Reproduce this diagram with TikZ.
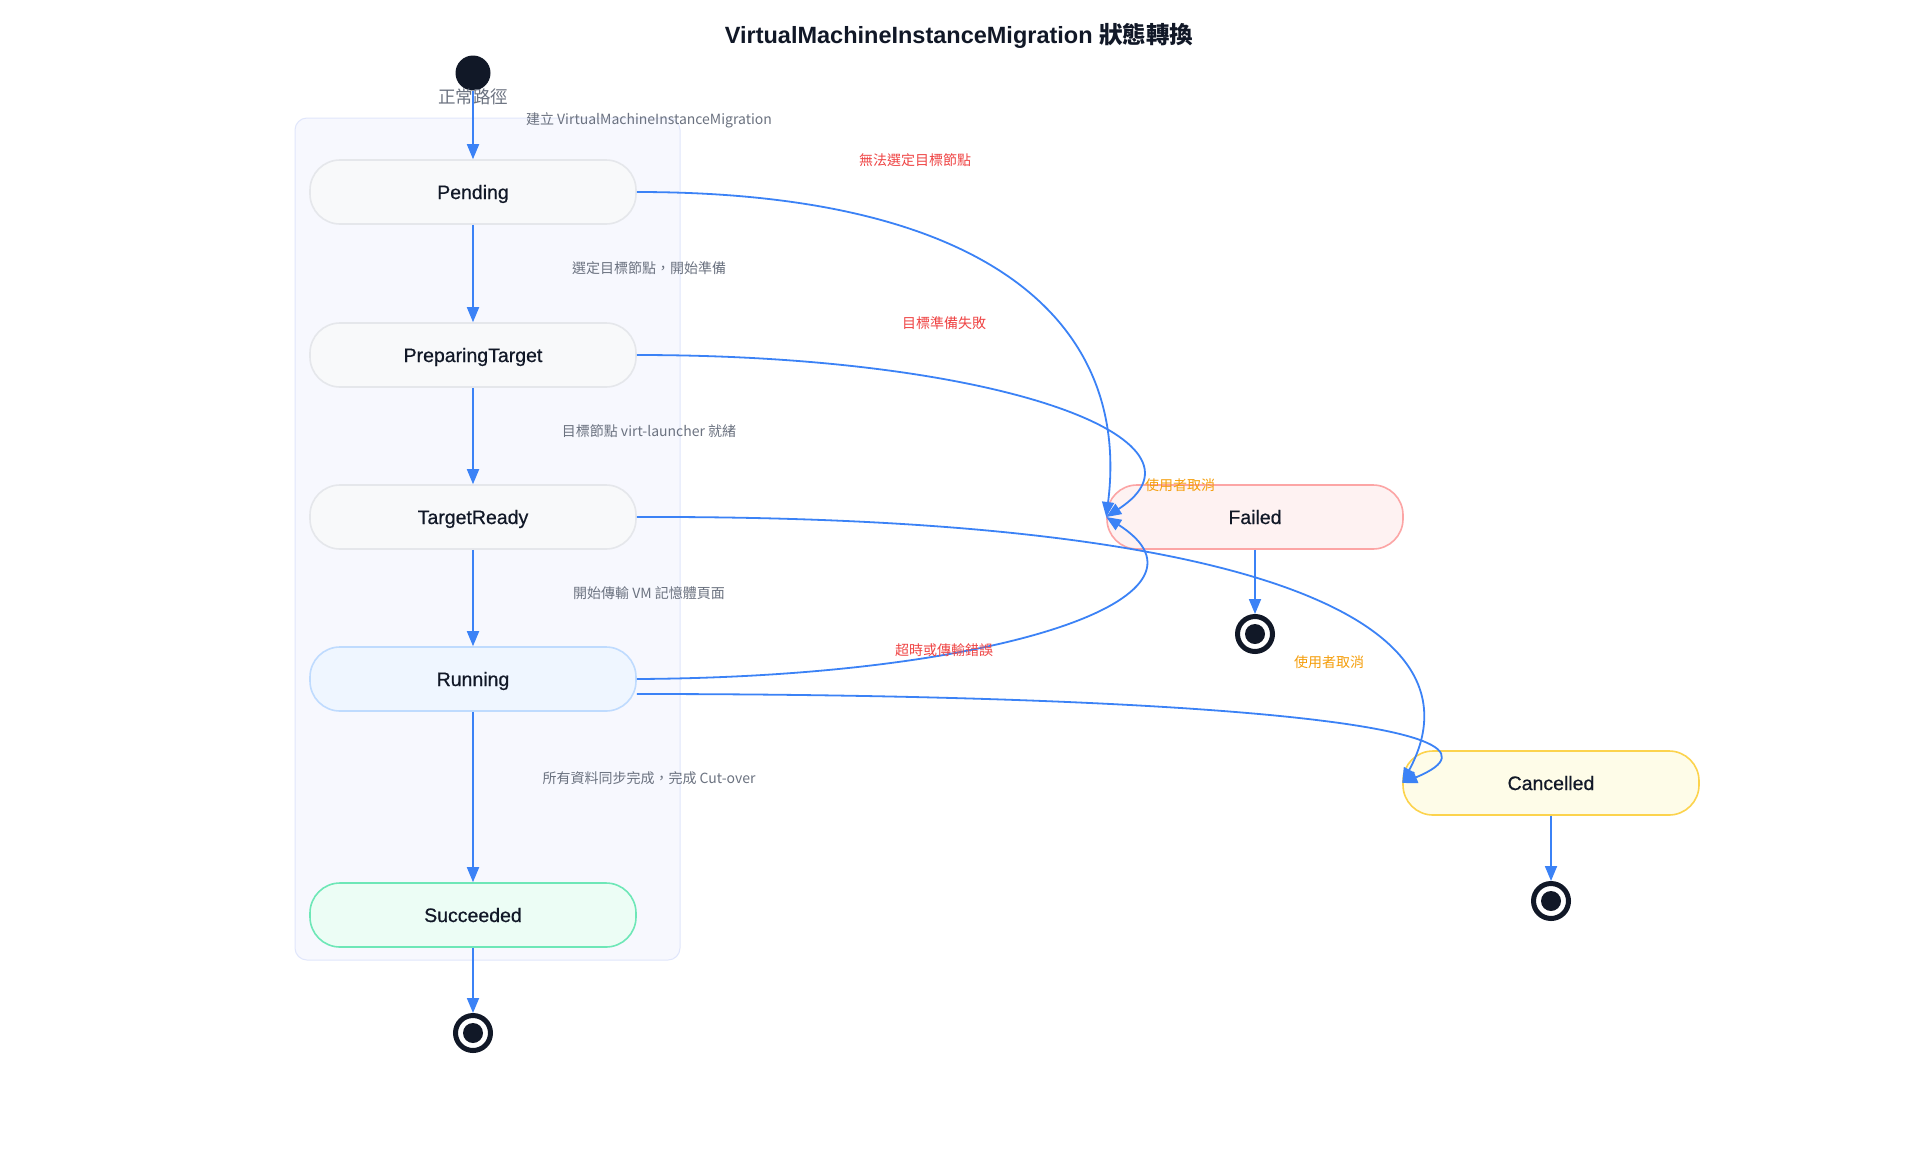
\documentclass[tikz,border=0pt]{standalone}
\usepackage{fontspec}
\setmainfont{Liberation Sans}
\newfontfamily\cjk{Noto Sans CJK TC}
\newfontfamily\statefont[FakeBold=0.6]{Liberation Sans}
\usetikzlibrary{arrows.meta}

\definecolor{ink}{HTML}{111827}
\definecolor{flow}{HTML}{3B82F6}
\definecolor{lblgray}{HTML}{6B7280}
\definecolor{errred}{HTML}{EF4444}
\definecolor{cancelorange}{HTML}{F59E0B}
\definecolor{statefill}{HTML}{F8F9FA}
\definecolor{stateline}{HTML}{E5E7EB}
\definecolor{runfill}{HTML}{EFF6FF}
\definecolor{runline}{HTML}{BFDBFE}
\definecolor{okfill}{HTML}{ECFDF5}
\definecolor{okline}{HTML}{6EE7B7}
\definecolor{failfill}{HTML}{FEF2F2}
\definecolor{failline}{HTML}{FCA5A5}
\definecolor{cancelfill}{HTML}{FEFCE8}
\definecolor{cancelline}{HTML}{FCD34D}
\definecolor{groupfill}{HTML}{F7F8FE}
\definecolor{groupline}{HTML}{E0E6FB}

\begin{document}
\begin{tikzpicture}[x=1pt, y=-1pt,
  state/.style={draw=stateline, fill=statefill, line width=1.6pt, rounded corners=30pt,
    minimum width=326pt, minimum height=64pt, text height=14pt, text depth=0pt,
    text=ink, font=\statefont\fontsize{19.5}{23}\selectfont},
  startdot/.style={circle, fill=ink, minimum size=35pt, inner sep=0pt},
  enddot/.style={circle, draw=ink, line width=5pt, fill=white, minimum size=35pt, inner sep=0pt,
    path picture={\fill[ink] (path picture bounding box.center) circle (10pt);}},
  arr/.style={-{Triangle[length=15pt, width=12pt]}, draw=flow, line width=1.8pt},
  lbl/.style={text=lblgray, font=\cjk\fontsize{14}{17}\selectfont},
  errlbl/.style={text=errred, font=\cjk\fontsize{14}{17}\selectfont},
  cxllbl/.style={text=cancelorange, font=\cjk\fontsize{14}{17}\selectfont}
]
\useasboundingbox[fill=white] (0,0) rectangle (1920,1152);

\node[text=ink, font=\bfseries\fontsize{23.5}{28}\selectfont] (title) at (959,36)
  {VirtualMachineInstanceMigration {\cjk 狀態轉換}};

% normal path group
\draw[fill=groupfill, draw=groupline, line width=1pt, rounded corners=12pt] (295,118) rectangle (680,960);

\node[startdot] (start) at (473,73) {};
\node[text=lblgray, font=\cjk\fontsize{17.5}{20}\selectfont] (grouptitle) at (473,97) {正常路徑};

\node[state] (pending) at (473,192) {Pending};
\node[state] (preparing) at (473,355) {PreparingTarget};
\node[state] (ready) at (473,517) {TargetReady};
\node[state, fill=runfill, draw=runline] (running) at (473,679) {Running};
\node[state, fill=okfill, draw=okline] (succeeded) at (473,915) {Succeeded};
\node[enddot] (okend) at (473,1033) {};

\node[state, minimum width=296pt, fill=failfill, draw=failline] (failed) at (1255,517) {Failed};
\node[enddot] (failend) at (1255,634) {};
\node[state, minimum width=296pt, fill=cancelfill, draw=cancelline] (cancelled) at (1551,783) {Cancelled};
\node[enddot] (cxlend) at (1551,901) {};

% main flow
\draw[arr] (start) -- (pending);
\draw[arr] (pending) -- (preparing);
\draw[arr] (preparing) -- (ready);
\draw[arr] (ready) -- (running);
\draw[arr] (running) -- (succeeded);
\draw[arr] (succeeded) -- (okend);
\draw[arr] (failed) -- (failend);
\draw[arr] (cancelled) -- (cxlend);

% failures and cancellation
\draw[arr] (pending.east) .. controls (1000,192) and (1130,330) .. (failed.west);
\draw[arr] (preparing.east) .. controls (1000,355) and (1225,440) .. (failed.west);
\draw[arr] (running.east) .. controls (1000,677) and (1232,597) .. (failed.west);
\draw[arr] (ready.east) .. controls (1250,515) and (1490,620) .. (cancelled.west);
\draw[arr] ([yshift=-15pt]running.east) .. controls (1150,694) and (1550,722) .. (cancelled.west);

\node[lbl] (l1) at (649,120) {建立 VirtualMachineInstanceMigration};
\node[lbl] (l2) at (649,268) {選定目標節點，開始準備};
\node[lbl] (l3) at (649,431) {目標節點 virt-launcher 就緒};
\node[lbl] (l4) at (649,593) {開始傳輸 VM 記憶體頁面};
\node[lbl] (l5) at (649,778) {所有資料同步完成，完成 Cut-over};
\node[errlbl] (e1) at (915,160) {無法選定目標節點};
\node[errlbl] (e2) at (944,323) {目標準備失敗};
\node[errlbl] (e3) at (944,650) {超時或傳輸錯誤};
\node[cxllbl] (c1) at (1180,485) {使用者取消};
\node[cxllbl] (c2) at (1329,662) {使用者取消};
\end{tikzpicture}
\end{document}
